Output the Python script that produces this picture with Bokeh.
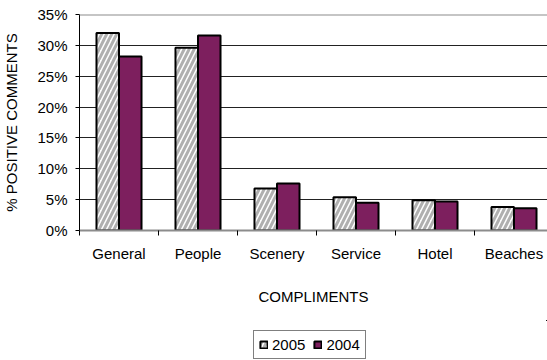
import numpy as np
from bokeh.plotting import figure
from bokeh.layouts import column
from bokeh.models import (ColumnDataSource, FixedTicker, NumeralTickFormatter,
                          Range1d, Legend, LegendItem, Span)
from bokeh.embed import file_html
from bokeh.resources import INLINE

categories = ["General", "People", "Scenery", "Service", "Hotel", "Beaches"]
v2005 = [0.320, 0.296, 0.068, 0.054, 0.049, 0.038]
v2004 = [0.282, 0.316, 0.076, 0.045, 0.047, 0.036]
yticks = [0, 0.05, 0.10, 0.15, 0.20, 0.25, 0.30, 0.35]
series = ["2005", "2004"]

FONT = "Liberation Sans"
PURPLE = "#7D1F5E"
HATCH = dict(hatch_pattern="/", hatch_color="#b0b0b0", hatch_weight=3, hatch_scale=10)

idx = np.arange(len(categories))
centers = idx + 0.5
bw = 0.285
src05 = ColumnDataSource(dict(x=centers - bw / 2, top=v2005))
src04 = ColumnDataSource(dict(x=centers + bw / 2, top=v2004))

p = figure(width=547, height=320, output_backend="svg", toolbar_location=None,
           x_range=Range1d(0, 468 / 79), y_range=Range1d(0, 0.35),
           min_border_left=79, min_border_top=14, min_border_right=0,
           min_border_bottom=90)
p.outline_line_color = None
p.background_fill_color = "white"
p.border_fill_color = "white"

p.vbar(x="x", top="top", width=bw, source=src05, fill_color="white",
       line_color="black", line_width=2, **HATCH)
p.vbar(x="x", top="top", width=bw, source=src04, fill_color=PURPLE,
       line_color="black", line_width=2)

# y axis
p.yaxis.ticker = FixedTicker(ticks=yticks)
p.yaxis.formatter = NumeralTickFormatter(format="0%")
p.yaxis.axis_line_color = "black"
p.yaxis.major_tick_out = 4
p.yaxis.major_tick_in = 0
p.yaxis.minor_tick_line_color = None
p.yaxis.major_label_standoff = 8
p.yaxis.major_label_text_font = FONT
p.yaxis.major_label_text_font_size = "15px"
p.yaxis.major_label_text_color = "black"
p.yaxis.axis_label = "% POSITIVE COMMENTS"
p.yaxis.axis_label_text_font = FONT
p.yaxis.axis_label_text_font_size = "15px"
p.yaxis.axis_label_text_font_style = "normal"
p.yaxis.axis_label_text_color = "black"
p.yaxis.axis_label_standoff = 14

# grid
p.ygrid.ticker = FixedTicker(ticks=yticks[1:-1])
p.ygrid.grid_line_color = "#222222"
p.ygrid.grid_line_width = 1
p.xgrid.grid_line_color = None
p.add_layout(Span(location=yticks[-1], dimension="width", line_color="#8c8c8c",
                  line_width=2))

# x axis
p.xaxis.ticker = FixedTicker(ticks=list(centers), minor_ticks=list(range(len(categories) + 1)))
p.xaxis.major_label_overrides = {float(c): n for c, n in zip(centers, categories)}
p.xaxis.major_tick_line_color = None
p.xaxis.major_tick_out = 0
p.xaxis.major_tick_in = 0
p.xaxis.minor_tick_line_color = "black"
p.xaxis.minor_tick_out = 5
p.xaxis.minor_tick_in = 0
p.xaxis.axis_line_color = "#8c8c8c"
p.xaxis.axis_line_width = 2
p.xaxis.major_label_standoff = 9
p.xaxis.major_label_text_font = FONT
p.xaxis.major_label_text_font_size = "15px"
p.xaxis.major_label_text_color = "black"
p.xaxis.axis_label = "COMPLIMENTS"
p.xaxis.axis_label_text_font = FONT
p.xaxis.axis_label_text_font_size = "15px"
p.xaxis.axis_label_text_font_style = "normal"
p.xaxis.axis_label_text_color = "black"
p.xaxis.axis_label_standoff = 23

# legend strip (same series sources; view range keeps the bars out of sight)
lf = figure(width=547, height=40, output_backend="svg", toolbar_location=None,
            x_axis_type=None, y_axis_type=None,
            x_range=Range1d(-3, -2), y_range=Range1d(-3, -2),
            min_border_left=0, min_border_top=0, min_border_right=0,
            min_border_bottom=0)
lf.outline_line_color = None
lf.grid.grid_line_color = None
l05 = lf.vbar(x="x", top="top", width=bw, source=src05,
              fill_color="white", line_color="black", line_width=2, **HATCH)
l04 = lf.vbar(x="x", top="top", width=bw, source=src04,
              fill_color=PURPLE, line_color="black", line_width=2)
legend = Legend(items=[LegendItem(label=series[0], renderers=[l05]),
                       LegendItem(label=series[1], renderers=[l04])],
                orientation="horizontal", location=(174, 1),
                border_line_color="black", border_line_width=1,
                background_fill_color="white", background_fill_alpha=1,
                label_text_font=FONT, label_text_font_size="15px",
                label_text_color="black",
                glyph_width=9, glyph_height=9, label_standoff=4,
                spacing=8, padding=5, margin=0,
                label_height=14)
lf.add_layout(legend, "center")

layout = column(p, lf, spacing=0)
open("out.html", "w").write(file_html(layout, INLINE))
